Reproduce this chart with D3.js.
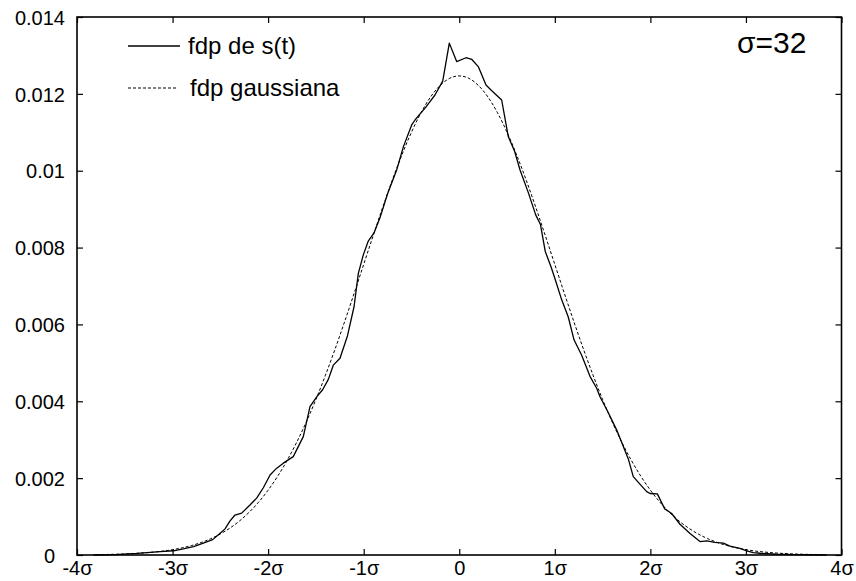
<!DOCTYPE html>
<html>
<head>
<meta charset="utf-8">
<script src="https://cdn.jsdelivr.net/npm/d3@7"></script>
<style>
  body { margin: 0; background: #fff; }
  text { font-family: "Liberation Sans", Arial, sans-serif; fill: #000; }
</style>
</head>
<body>
<svg id="container" width="856" height="581"></svg>
<script>
// x in units of sigma, y = probability density
var xTicks = [-4, -3, -2, -1, 0, 1, 2, 3, 4];
var yTicks = [0, 0.002, 0.004, 0.006, 0.008, 0.01, 0.012, 0.014];

var legendLabels = ["fdp de s(t)", "fdp gaussiana"];
var sigmaLabel = "\u03c3=32";

var sX = [-3.83, -3.6, -3.375, -3.13, -2.99, -2.888, -2.78, -2.678, -2.58, -2.505,
  -2.451, -2.40, -2.347, -2.277, -2.19, -2.12, -2.05, -1.98, -1.91, -1.841,
  -1.737, -1.632, -1.562, -1.49, -1.43, -1.37, -1.318, -1.248, -1.17, -1.101,
  -1.056, -1.004, -0.952, -0.892, -0.829, -0.75, -0.655, -0.585, -0.498, -0.463,
  -0.41, -0.358, -0.306, -0.254, -0.173, -0.104, -0.027, 0.071, 0.130, 0.199,
  0.280, 0.332, 0.444, 0.513, 0.58, 0.636, 0.72, 0.80, 0.85, 0.90,
  0.96, 1.0, 1.072, 1.14, 1.201, 1.281, 1.368, 1.438, 1.473, 1.56,
  1.648, 1.769, 1.821, 1.90, 1.962, 1.996, 2.073, 2.15, 2.223, 2.31,
  2.415, 2.519, 2.59, 2.676, 2.763, 2.833, 2.938, 3.008, 3.077, 3.147,
  3.32, 3.5, 3.845];
var sY = [0, 0.00001, 0.00004, 0.00009, 0.00011, 0.00016, 0.00022, 0.00031, 0.00040, 0.00056,
  0.00068, 0.00088, 0.00104, 0.00109, 0.00130, 0.00148, 0.00175, 0.00208, 0.00226, 0.00239,
  0.00256, 0.00308, 0.00386, 0.00412, 0.00430, 0.00457, 0.00494, 0.00512, 0.00570, 0.00646,
  0.00733, 0.00781, 0.00817, 0.00838, 0.00878, 0.00940, 0.01002, 0.01062, 0.01119, 0.01132,
  0.01148, 0.01163, 0.01180, 0.01197, 0.01233, 0.01332, 0.01284, 0.01294, 0.01290, 0.01271,
  0.01223, 0.01210, 0.01184, 0.01089, 0.01050, 0.01002, 0.00945, 0.00885, 0.00860, 0.00790,
  0.00750, 0.00720, 0.00664, 0.00620, 0.00560, 0.00520, 0.00465, 0.00434, 0.00412, 0.00370,
  0.00325, 0.00250, 0.00204, 0.00182, 0.00165, 0.00160, 0.00159, 0.00120, 0.00108, 0.00080,
  0.00056, 0.00035, 0.00037, 0.00033, 0.00031, 0.00023, 0.00017, 0.00011, 0.00006, 0.000045,
  0.00002, 0.00001, 0];

// gaussian pdf (dashed)
var gX = [-3.8, -3.7, -3.6, -3.5, -3.4, -3.3, -3.2, -3.1, -3.0, -2.9, -2.8, -2.7, -2.6, -2.5,
  -2.4, -2.3, -2.2, -2.1, -2.0, -1.9, -1.8, -1.7, -1.6, -1.5, -1.4, -1.3, -1.2, -1.1, -1.0,
  -0.9, -0.8, -0.7, -0.6, -0.5, -0.4, -0.3, -0.2, -0.1, 0, 0.1, 0.2, 0.3, 0.4, 0.5, 0.6,
  0.7, 0.8, 0.9, 1.0, 1.1, 1.2, 1.3, 1.4, 1.5, 1.6, 1.7, 1.8, 1.9, 2.0, 2.1, 2.2, 2.3, 2.4,
  2.5, 2.6, 2.7, 2.8, 2.9, 3.0, 3.1, 3.2, 3.3, 3.4, 3.5, 3.6, 3.7, 3.8];
var gY = [0.000009, 0.000013, 0.000019, 0.000027, 0.000039, 0.000054, 0.000075, 0.000102,
  0.000139, 0.000186, 0.000247, 0.000326, 0.000425, 0.000548, 0.000700, 0.000885, 0.001109,
  0.001374, 0.001687, 0.002050, 0.002467, 0.002939, 0.003466, 0.004047, 0.004679, 0.005355,
  0.006068, 0.006808, 0.007562, 0.008315, 0.009053, 0.009758, 0.010413, 0.011002, 0.011509,
  0.011919, 0.012220, 0.012405, 0.012467, 0.012405, 0.012220, 0.011919, 0.011509, 0.011002,
  0.010413, 0.009758, 0.009053, 0.008315, 0.007562, 0.006808, 0.006068, 0.005355, 0.004679,
  0.004047, 0.003466, 0.002939, 0.002467, 0.002050, 0.001687, 0.001374, 0.001109, 0.000885,
  0.000700, 0.000548, 0.000425, 0.000326, 0.000247, 0.000186, 0.000139, 0.000102, 0.000075,
  0.000054, 0.000039, 0.000027, 0.000019, 0.000013, 0.000009];

var main = function() {
  var svg = d3.select('#container');
  var margin = {top: 17, right: 14.5, bottom: 26, left: 77};
  var width = 856 - margin.left - margin.right;
  var height = 581 - margin.top - margin.bottom;

  var g = svg.append("g")
    .attr("transform", "translate(" + margin.left + "," + margin.top + ")");

  var x = d3.scaleLinear().domain([-4, 4]).range([0, width]);
  var y = d3.scaleLinear().domain([0, 0.014]).range([height, 0]);

  var fmtX = function(d) { return d === 0 ? "0" : String(d) + "\u03c3"; };
  var fmtY = function(d) { return String(+d.toFixed(3)); };

  // axes, ticks point inwards on all four sides
  var bottom = g.append("g")
    .attr("transform", "translate(0," + height + ")")
    .call(d3.axisBottom(x).tickValues(xTicks).tickFormat(fmtX)
      .tickSizeInner(-6).tickSizeOuter(0).tickPadding(8));
  var top = g.append("g")
    .call(d3.axisTop(x).tickValues(xTicks).tickFormat("")
      .tickSizeInner(-6).tickSizeOuter(0));
  var left = g.append("g")
    .call(d3.axisLeft(y).tickValues(yTicks).tickFormat(fmtY)
      .tickSizeInner(-6).tickSizeOuter(0).tickPadding(12));
  var right = g.append("g")
    .attr("transform", "translate(" + width + ",0)")
    .call(d3.axisRight(y).tickValues(yTicks).tickFormat("")
      .tickSizeInner(-6).tickSizeOuter(0));

  [bottom, top, left, right].forEach(function(a) {
    a.select(".domain").remove();
    a.selectAll(".tick line").attr("stroke", "#000").attr("stroke-width", 1.2);
  });
  bottom.selectAll("text").attr("font-size", 20).attr("dy", "0.6em");
  left.selectAll("text").attr("font-size", 20).attr("dy", "0.36em");
  // the "0" label sits a bit further left, clear of "-4σ"
  left.selectAll(".tick text").filter(function(d) { return d === 0; }).attr("x", -22);
  svg.selectAll(".tick text").attr("font-family", "Liberation Sans, Arial, sans-serif").attr("fill", "#000");

  g.append("rect")
    .attr("width", width)
    .attr("height", height)
    .attr("fill", "none")
    .attr("stroke", "#000")
    .attr("stroke-width", 1.6);

  var line = d3.line()
    .x(function(d) { return x(d[0]); })
    .y(function(d) { return y(d[1]); });

  var gauss = d3.zip(gX, gY);
  var measured = d3.zip(sX, sY);

  g.append("path")
    .datum(gauss)
    .attr("fill", "none")
    .attr("stroke", "#000")
    .attr("stroke-width", 1)
    .attr("stroke-dasharray", "3,2")
    .attr("d", line.curve(d3.curveMonotoneX));

  g.append("path")
    .datum(measured)
    .attr("fill", "none")
    .attr("stroke", "#000")
    .attr("stroke-width", 1.3)
    .attr("stroke-linejoin", "round")
    .attr("d", line.curve(d3.curveLinear));

  // legend
  var legend = svg.append("g");
  var dashes = [null, "3,2"];
  legendLabels.forEach(function(lbl, i) {
    var ly = 46 + i * 42;
    legend.append("line")
      .attr("x1", 128).attr("x2", i === 0 ? 180 : 178)
      .attr("y1", ly).attr("y2", ly)
      .attr("stroke", "#000")
      .attr("stroke-width", i === 0 ? 1.3 : 1)
      .attr("stroke-dasharray", dashes[i]);
    legend.append("text")
      .attr("x", 188 + i * 2)
      .attr("y", ly + 8)
      .attr("font-size", 24)
      .text(lbl);
  });

  svg.append("text")
    .attr("x", 737)
    .attr("y", 53)
    .attr("font-size", 30)
    .text(sigmaLabel);
};

main();
</script>
</body>
</html>
